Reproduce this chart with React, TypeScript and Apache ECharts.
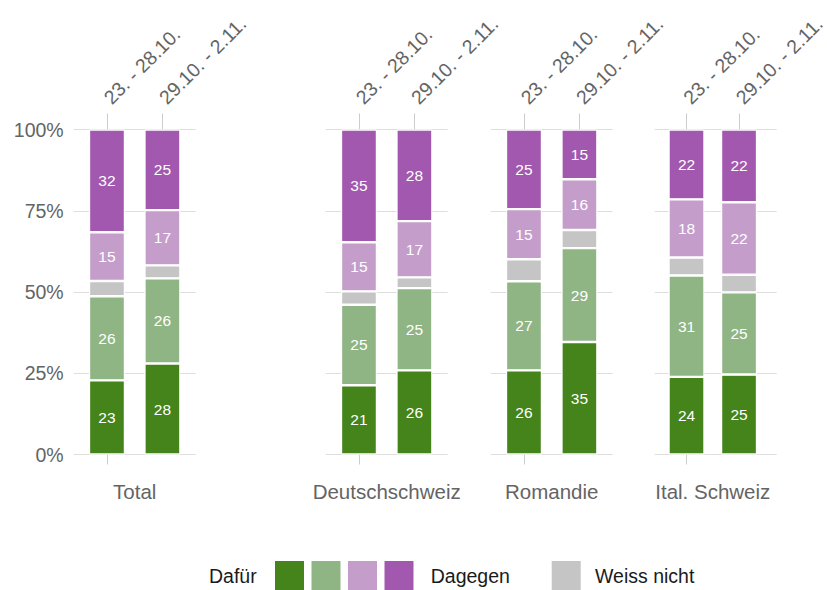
import React, { useEffect, useRef } from 'react';
import * as echarts from 'echarts';

const regions = ['Total', 'Deutschschweiz', 'Romandie', 'Ital. Schweiz'];
const periods = ['23. - 28.10.', '29.10. - 2.11.'];
// values per region: [first period, second period], in percent
const dafuer = [[22.8, 28.0], [21.3, 25.9], [25.9, 34.6], [23.9, 24.6]];
const eherDafuer = [[25.9, 26.2], [24.8, 25.3], [27.4, 28.9], [31.2, 25.3]];
const weissNicht = [[4.7, 4.0], [4.1, 3.3], [6.8, 5.6], [5.5, 5.4]];
const eherDagegen = [[15.0, 17.0], [15.1, 17.3], [15.4, 15.6], [17.9, 22.3]];
const dagegen = [[31.6, 24.8], [34.7, 28.2], [24.5, 15.3], [21.5, 22.4]];
const yTicks = [0, 25, 50, 75, 100];
const legendTexts = ['Dafür', 'Dagegen', 'Weiss nicht'];

const COLORS = {
  dafuer: '#45831b',
  eherDafuer: '#8fb584',
  weissNicht: '#c5c5c5',
  eherDagegen: '#c59dcb',
  dagegen: '#a158ae',
};

const FONT = '"Liberation Sans", Arial, Helvetica, sans-serif';
const AXIS_TEXT = '#646464';
const GRID_LINE = '#dedede';
const TICK_LINE = '#cccccc';

const seriesDefs = [
  { key: 'dafuer', data: dafuer, color: COLORS.dafuer, label: true },
  { key: 'eherDafuer', data: eherDafuer, color: COLORS.eherDafuer, label: true },
  { key: 'weissNicht', data: weissNicht, color: COLORS.weissNicht, label: false },
  { key: 'eherDagegen', data: eherDagegen, color: COLORS.eherDagegen, label: true },
  { key: 'dagegen', data: dagegen, color: COLORS.dagegen, label: true },
];

const panelLefts = [73.7, 325.7, 490.7, 654.7];
const panelWidth = 122;
const panelTop = 129.5;
const panelHeight = 325;
const bandPad = 5.55; // extra expansion beyond the category bands

export default function App() {
  const ref = useRef<HTMLDivElement>(null);

  useEffect(() => {
    document.body.style.margin = '0';
    if (!ref.current) return;
    const chart = echarts.init(ref.current, null, { renderer: 'svg' });

    const n = regions.length;
    const grid: any[] = [];
    // background grids (full panel width) for the horizontal grid lines
    regions.forEach((_, i) => {
      grid.push({ left: panelLefts[i], top: panelTop, width: panelWidth, height: panelHeight });
    });
    // data grids
    regions.forEach((_, i) => {
      grid.push({
        left: panelLefts[i] + bandPad,
        top: panelTop,
        width: panelWidth - 2 * bandPad,
        height: panelHeight,
      });
    });

    const xAxis: any[] = [];
    const yAxis: any[] = [];
    regions.forEach((_, i) => {
      xAxis.push({
        type: 'category',
        gridIndex: i,
        data: periods,
        show: false,
      });
      yAxis.push({
        type: 'value',
        gridIndex: i,
        min: yTicks[0],
        max: yTicks[yTicks.length - 1],
        interval: 25,
        axisLine: { show: false },
        axisTick: { show: false },
        splitLine: { show: true, lineStyle: { color: GRID_LINE, width: 1 } },
        axisLabel: {
          show: i === 0,
          margin: 10,
          color: AXIS_TEXT,
          fontSize: 19.5,
          fontFamily: FONT,
          formatter: (v: number) => `${v}%`,
        },
      });
    });
    regions.forEach((region, i) => {
      // top axis with period labels
      xAxis.push({
        type: 'category',
        gridIndex: n + i,
        data: periods,
        position: 'top',
        boundaryGap: true,
        axisLine: { show: false, onZero: false },
        splitLine: { show: false },
        axisTick: {
          show: true,
          alignWithLabel: true,
          length: 16,
          lineStyle: { color: TICK_LINE, width: 1 },
        },
        axisLabel: {
          show: true,
          interval: 0,
          rotate: -45,
          margin: 29,
          color: AXIS_TEXT,
          fontSize: 19.5,
          fontFamily: FONT,
        },
      });
      // bottom axis with region name
      xAxis.push({
        type: 'category',
        gridIndex: n + i,
        data: periods,
        position: 'bottom',
        boundaryGap: true,
        name: region,
        nameLocation: 'middle',
        nameGap: 26,
        nameTextStyle: { color: AXIS_TEXT, fontSize: 20.5, fontFamily: FONT },
        axisLine: { show: false, onZero: false },
        splitLine: { show: false },
        axisTick: {
          show: true,
          alignWithLabel: true,
          length: 10,
          lineStyle: { color: TICK_LINE, width: 1 },
        },
        axisLabel: { show: false },
      });
      yAxis.push({
        type: 'value',
        gridIndex: n + i,
        min: yTicks[0],
        max: yTicks[yTicks.length - 1],
        interval: 25,
        show: false,
        splitLine: { show: false },
      });
    });

    const series: any[] = [];
    regions.forEach((_, i) => {
      seriesDefs.forEach((def) => {
        series.push({
          type: 'bar',
          name: def.key,
          xAxisIndex: n + 2 * i,
          yAxisIndex: n + i,
          stack: `s${i}`,
          barWidth: 36,
          data: def.data[i],
          itemStyle: { color: def.color, borderColor: '#ffffff', borderWidth: 1.2 },
          label: {
            show: def.label,
            position: 'inside',
            color: '#ffffff',
            fontSize: 15.5,
            fontFamily: FONT,
            formatter: (p: any) => String(Math.round(p.value)),
          },
          emphasis: { disabled: true },
        });
      });
    });

    const legendY = 561;
    const sq = 29;
    const graphic: any[] = [
      {
        type: 'text',
        x: 209,
        y: legendY + sq / 2,
        style: { text: legendTexts[0], fill: '#1a1a1a', font: `19.5px ${FONT}`, textVerticalAlign: 'middle', textAlign: 'left' },
      },
      ...[COLORS.dafuer, COLORS.eherDafuer, COLORS.eherDagegen, COLORS.dagegen].map((c, k) => ({
        type: 'rect',
        shape: { x: 275 + k * 36.5, y: legendY, width: sq, height: sq },
        style: { fill: c },
      })),
      {
        type: 'text',
        x: 430.7,
        y: legendY + sq / 2,
        style: { text: legendTexts[1], fill: '#1a1a1a', font: `19.5px ${FONT}`, textVerticalAlign: 'middle', textAlign: 'left' },
      },
      {
        type: 'rect',
        shape: { x: 551.7, y: legendY, width: sq, height: sq },
        style: { fill: COLORS.weissNicht },
      },
      {
        type: 'text',
        x: 595,
        y: legendY + sq / 2,
        style: { text: legendTexts[2], fill: '#1a1a1a', font: `19.5px ${FONT}`, textVerticalAlign: 'middle', textAlign: 'left' },
      },
    ];

    chart.setOption({
      animation: false,
      backgroundColor: '#ffffff',
      textStyle: { fontFamily: FONT },
      tooltip: { show: false },
      grid,
      xAxis,
      yAxis,
      series,
      graphic,
    });

    return () => {
      chart.dispose();
    };
  }, []);

  return <div ref={ref} style={{ width: 827, height: 590 }} />;
}
